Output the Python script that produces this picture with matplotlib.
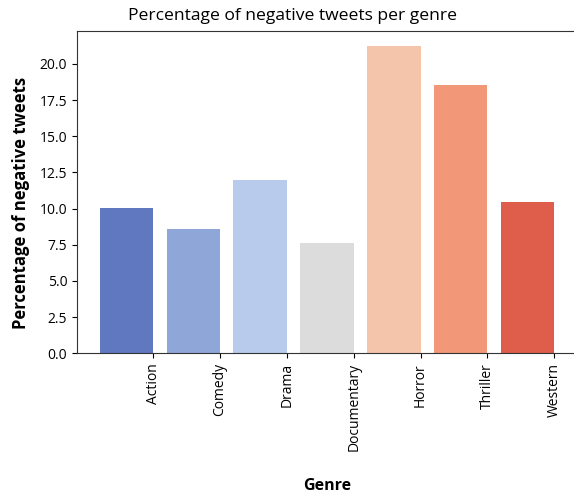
import matplotlib
matplotlib.use("Agg")
import matplotlib.pyplot as plt
import numpy as np

genres = ["Action", "Comedy", "Drama", "Documentary", "Horror", "Thriller", "Western"]
neg_pct = [10.07, 8.60, 12.0, 7.61, 21.22, 18.58, 10.46]
yticks = [0.0, 2.5, 5.0, 7.5, 10.0, 12.5, 15.0, 17.5, 20.0]

colors = ["#6078c0", "#8fa6d9", "#b9cbec", "#dcdcdc", "#f4c4ab", "#f29878", "#de5e4b"]

fig = plt.figure(figsize=(5.74, 4.96), dpi=100)
ax = fig.add_axes([77/574, 1-353.3/496, 500/574, (353.3-31)/496])

x = np.arange(len(genres))
ax.bar(x, neg_pct, width=-0.8, align="edge", color=colors)
ax.set_xticks(x)
ax.set_xticklabels(genres, rotation=90, fontsize=10, family="Open Sans")
ax.set_yticks(yticks)
ax.set_yticklabels([f"{v:.1f}" for v in yticks], fontsize=10, family="Open Sans")
ax.set_title("Percentage of negative tweets per genre", fontsize=12.6, family="Open Sans",
             pad=8, x=(293-77)/500)
ax.set_ylabel("Percentage of negative tweets", fontsize=12, fontweight="bold",
              family="Open Sans", labelpad=7, y=0.466)
ax.set_xlabel("Genre", fontsize=11.5, fontweight="bold", family="Open Sans", labelpad=19)
for s in ax.spines.values():
    s.set_color("#333333")

fig.savefig("out.png", dpi=100)
